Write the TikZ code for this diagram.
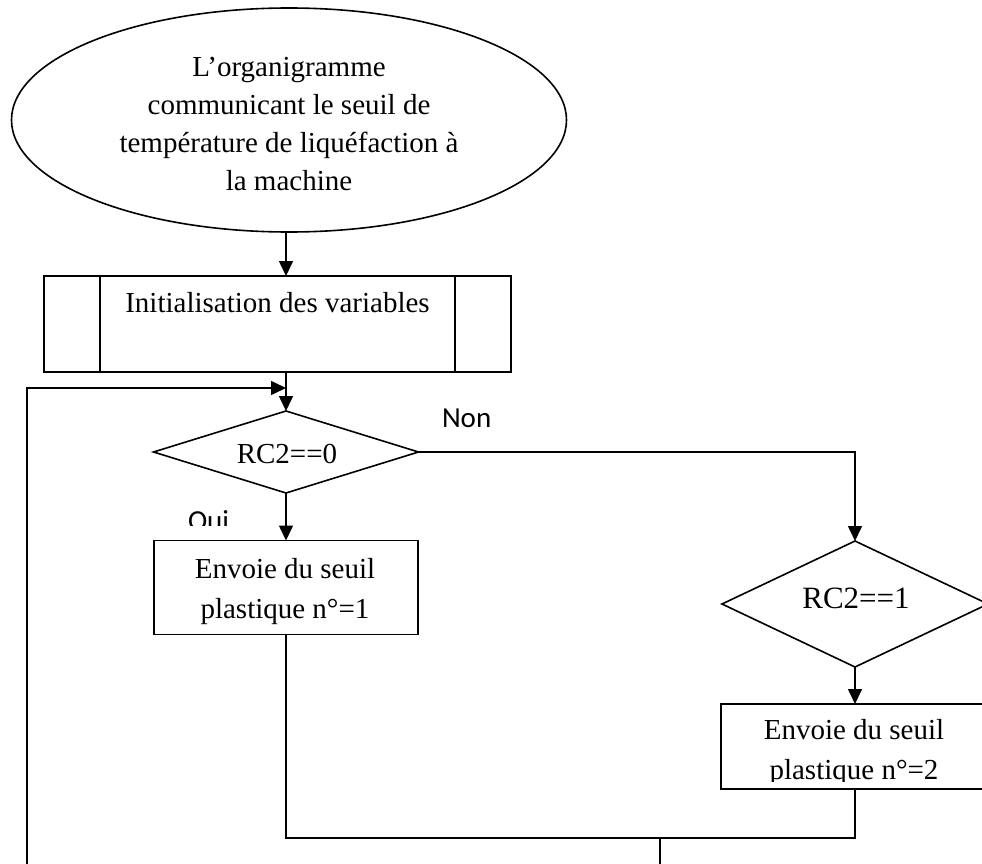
\documentclass[tikz,border=0pt]{standalone}
\usepackage{fontspec}
\setmainfont{Liberation Serif}
\newfontfamily\yesnofont{Carlito}
\usetikzlibrary{shapes.geometric,arrows.meta}
\begin{document}
\begin{tikzpicture}[x=1pt,y=-1pt,
  line width=1.6pt,
  every node/.style={inner sep=0pt, outer sep=0pt},
  txt/.style={font=\fontsize{29}{40}\selectfont, align=center},
  ovaltxt/.style={font=\fontsize{29}{38}\selectfont, align=center},
  box/.style={draw, rectangle},
  dec/.style={draw, diamond},
  flow/.style={-{Triangle[length=15pt,width=14pt]}},
  yn/.style={font=\yesnofont\fontsize{29}{34}\selectfont, anchor=base west}]
\useasboundingbox (0,0) rectangle (982,864);
\clip (0,0) rectangle (982,864);

% reference points of the main column and the loop
\coordinate (col) at (286,0);
\coordinate (loopBot) at (27,880);
\coordinate (loopIn) at (286,388);
\coordinate (merge) at (660,838);
\coordinate (exit) at (660,880);

% start oval
\node[draw, ellipse, minimum width=555pt, minimum height=224pt] (start) at (289,120) {};
\node[ovaltxt] (starttext) at (289,124)
  {L’organigramme\\communicant le seuil de\\température de liquéfaction à\\la machine};

% initialisation (predefined process)
\node[box, minimum width=467pt, minimum height=96pt] (init) at (277.5,324) {};
\draw ([xshift=56pt]init.north west) -- ([xshift=56pt]init.south west);
\draw ([xshift=-56pt]init.north east) -- ([xshift=-56pt]init.south east);
\node[txt, anchor=base] (inittext) at (277.5,312) {Initialisation des variables};

% first test
\node[dec, minimum width=265pt, minimum height=82pt] (d1) at (286,452) {};
\node[txt] (d1text) at (287,454) {RC2==0};

% first action
\node[box, minimum width=264pt, minimum height=94pt] (b1) at (286,587.5) {};
\node[txt] (b1text) at (285,592) {Envoie du seuil\\plastique n°=1};

% second test
\node[dec, minimum width=266pt, minimum height=126pt] (d2) at (855,604) {};
\node[txt, font=\fontsize{31}{40}\selectfont] (d2text) at (856,598) {RC2==1};

% second action
\node[box, minimum width=268pt, minimum height=85pt] (b2) at (855,746.5) {};
\begin{scope}
  \clip (700,700) rectangle (990,781);
  \node[txt] (b2text) at (854,753) {Envoie du seuil\\plastique n°=2};
\end{scope}

% branch labels
\node[yn] (non) at (442,427) {Non};
\begin{scope}
  \clip (170,500) rectangle (250,525);
  \node[yn] (oui) at (188,530) {Oui};
\end{scope}

% connectors
\draw[flow] (start.south -| col) -- (init.north -| col);
\draw[flow] (init.south -| d1.north) -- (d1.north);
\draw[flow] (loopBot) |- (loopIn);
\draw[flow] (d1.east) -| (d2.north);
\draw[flow] (d1.south) -- (b1.north);
\draw[flow] (d2.south) -- (b2.north);
\draw (b1.south) |- (merge) -| (b2.south);
\draw (merge) -- (exit);
\end{tikzpicture}
\end{document}
